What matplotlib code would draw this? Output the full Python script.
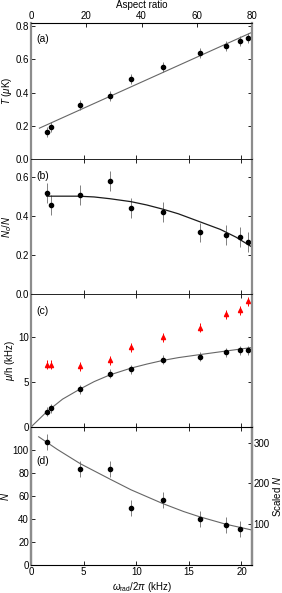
import numpy as np
import matplotlib
matplotlib.use("Agg")
import matplotlib.pyplot as plt

plt.rcParams['font.family'] = ['Liberation Sans', 'DejaVu Sans']
plt.rcParams['mathtext.fontset'] = 'custom'
plt.rcParams['mathtext.rm'] = 'Liberation Sans'
plt.rcParams['mathtext.it'] = 'Liberation Sans:italic'

# data
freq = [1.52, 1.90, 4.69, 7.51, 9.50, 12.51, 16.09, 18.50, 19.89, 20.59]
T = [0.164, 0.194, 0.324, 0.382, 0.48, 0.552, 0.64, 0.684, 0.712, 0.73]
T_err = [0.03, 0.03, 0.03, 0.03, 0.03, 0.03, 0.03, 0.03, 0.03, 0.03]
T_fit_x = [0.8, 21.0]
T_fit_y = [0.186, 0.764]

frac = [0.516, 0.456, 0.506, 0.578, 0.441, 0.419, 0.315, 0.303, 0.292, 0.267]
frac_err = [0.05, 0.05, 0.05, 0.05, 0.05, 0.05, 0.05, 0.05, 0.05, 0.05]
frac_fit_x = [1.5, 3, 4.5, 6, 7.5, 9.5, 11, 12.5, 14, 16, 18, 19.5, 21]
frac_fit_y = [0.50, 0.50, 0.50, 0.496, 0.487, 0.472, 0.455, 0.434, 0.41, 0.37, 0.33, 0.29, 0.24]

mu = [1.70, 2.11, 4.22, 5.93, 6.44, 7.48, 7.81, 8.30, 8.56, 8.56]
mu_err = [0.5] * 10
mu_red = [6.93, 6.93, 6.74, 7.41, 8.89, 10.0, 11.04, 12.52, 13.0, 14.0]
mu_red_err = [0.5] * 10
mu_fit_x = [0, 1.5, 3, 4.7, 6, 7.5, 9.5, 11, 12.5, 14, 16, 18.5, 21]
mu_fit_y = [0, 1.7, 3.1, 4.25, 5.05, 5.8, 6.55, 7.0, 7.4, 7.72, 8.05, 8.45, 8.85]

freq_d = [1.52, 4.69, 7.51, 9.50, 12.51, 16.09, 18.50, 19.89]
N = [107.2, 83.2, 83.8, 49.3, 56.6, 40.3, 34.7, 31.2]
N_err = [7, 7, 7, 7, 7, 7, 7, 7]
N_fit_x = [0.73, 2.5, 4.7, 7.5, 9.5, 12.5, 14.5, 16, 18.5, 21]
N_fit_y = [111.5, 100.5, 88, 74.7, 65.4, 53.5, 46.5, 42, 35.5, 30.4]

fig = plt.figure(figsize=(2.82, 5.93), dpi=100)
L, W = 31 / 282, 221 / 282
def box(top, bot):
    return [L, 1 - bot / 593, W, (bot - top) / 593]

axa = fig.add_axes(box(23, 159))
axb = fig.add_axes(box(159, 294))
axc = fig.add_axes(box(294, 427))
axd = fig.add_axes(box(427, 565))

ebkw = dict(fmt='o', color='black', ms=3, ecolor='0.5', elinewidth=0.7, capsize=0)

def style(ax):
    ax.set_xlim(0, 21)
    ax.set_xticks([0, 5, 10, 15, 20])
    ax.tick_params(direction='in', labelsize=7, length=3, width=0.6,
                   top=True, right=True, pad=1.5)
    for s in ['left', 'right']:
        ax.spines[s].set_color('0.55')
        ax.spines[s].set_linewidth(1.6)
    for s in ['top', 'bottom']:
        ax.spines[s].set_linewidth(0.6)

# (a)
axa.errorbar(freq, T, yerr=T_err, **ebkw)
axa.plot(T_fit_x, T_fit_y, color='0.4', lw=0.8)
axa.set_ylim(0, 0.82)
axa.set_yticks([0.0, 0.2, 0.4, 0.6, 0.8])
axa.set_yticklabels(['0.0', '0.2', '0.4', '0.6', '0.8'])
axa.set_ylabel(r'$T$ ($\mu$K)', fontsize=7, labelpad=1)
style(axa)
axa.tick_params(labelbottom=False, top=False)
sec = axa.secondary_xaxis('top', functions=(lambda f: f * 80 / 21, lambda a: a * 21 / 80))
sec.set_xticks([0, 20, 40, 60, 80])
sec.tick_params(direction='in', labelsize=7, length=3, width=0.6, pad=1.5)
sec.set_xlabel('Aspect ratio', fontsize=7, labelpad=2)
axa.text(0.025, 0.88, '(a)', transform=axa.transAxes, fontsize=7.5, va='center')

# (b)
axb.errorbar(freq, frac, yerr=frac_err, **ebkw)
axb.plot(frac_fit_x, frac_fit_y, color='0.1', lw=0.9)
axb.set_ylim(0, 0.69)
axb.set_yticks([0.0, 0.2, 0.4, 0.6])
axb.set_yticklabels(['0.0', '0.2', '0.4', '0.6'])
axb.set_ylabel(r'$N_c/N$', fontsize=7, labelpad=1)
style(axb)
axb.tick_params(labelbottom=False)
axb.text(0.025, 0.875, '(b)', transform=axb.transAxes, fontsize=7.5, va='center')

# (c)
axc.errorbar(freq, mu_red, yerr=mu_red_err, fmt='^', color='red', ms=3,
             ecolor='red', elinewidth=0.7, capsize=0)
axc.errorbar(freq, mu, yerr=mu_err, **ebkw)
axc.plot(mu_fit_x, mu_fit_y, color='0.4', lw=0.8)
axc.set_ylim(0, 14.8)
axc.set_yticks([0, 5, 10])
axc.set_ylabel(r'$\mu$/h (kHz)', fontsize=7, labelpad=1)
style(axc)
axc.tick_params(labelbottom=False)
axc.text(0.025, 0.87, '(c)', transform=axc.transAxes, fontsize=7.5, va='center')

# (d)
axd.errorbar(freq_d, N, yerr=N_err, **ebkw)
axd.plot(N_fit_x, N_fit_y, color='0.4', lw=0.8)
axd.set_ylim(0, 120)
axd.set_yticks([0, 20, 40, 60, 80, 100])
axd.set_ylabel(r'$N$', fontsize=7, labelpad=1)
style(axd)
axd.tick_params(right=False)
axd.set_xlabel(r'$\omega_{\rm rad}/2\pi$ (kHz)', fontsize=7, labelpad=2)
axd.text(0.025, 0.75, '(d)', transform=axd.transAxes, fontsize=7.5, va='center')
axr = axd.twinx()
axr.set_ylim(0, 120 * 2.82)
axr.set_yticks([100, 200, 300])
axr.tick_params(direction='in', labelsize=7, length=3, width=0.6, pad=1)
axr.set_ylabel(r'Scaled $N$', fontsize=7, labelpad=1)
for s in ['left', 'right']:
    axr.spines[s].set_color('0.55')
    axr.spines[s].set_linewidth(1.6)

fig.savefig('out.png', dpi=100)
